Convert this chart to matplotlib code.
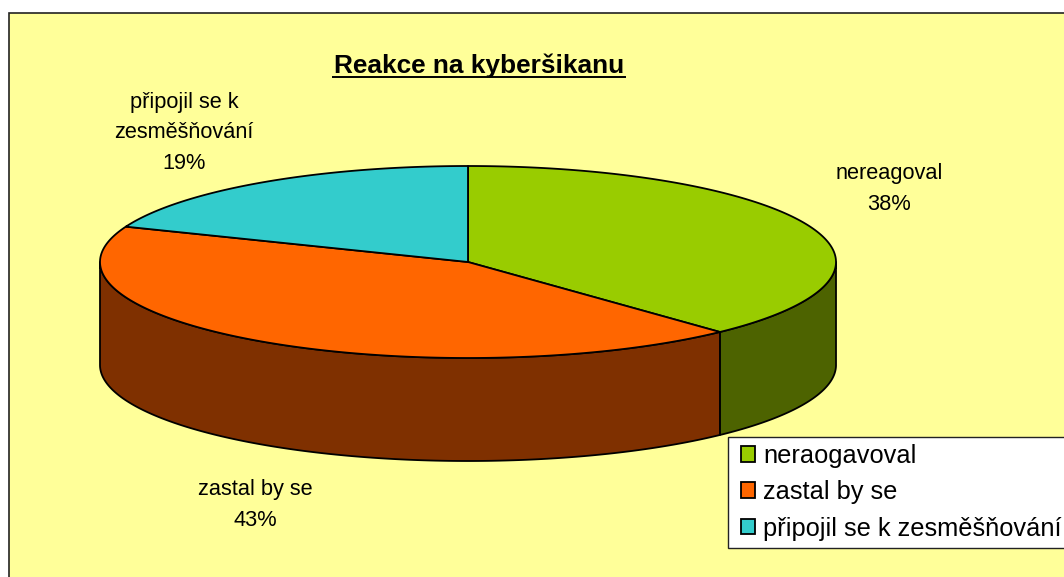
import matplotlib
matplotlib.use('Agg')
import matplotlib.pyplot as plt
import numpy as np
from matplotlib.legend_handler import HandlerPatch
from matplotlib.patches import Patch, Rectangle

plt.rcParams['font.family'] = ['Liberation Sans', 'DejaVu Sans']

TITLE = 'Reakce na kyberšikanu'
SLICE_LABELS = ['nereagoval', 'zastal by se', 'připojil se k\nzesměšňování']
LEGEND_LABELS = ['neraogavoval', 'zastal by se', 'připojil se k zesměšňování']
PERCENTS = [38, 43, 19]
TOP_COLORS = ['#99CC00', '#FF6600', '#33CCCC']
SIDE_COLORS = ['#4D6300', '#7F3000', '#1A6666']

# pie geometry, in reference pixels
CX, CY = 468, 262
RX, RY = 368, 96
DEPTH = 103

WIDTH, HEIGHT = 1064, 577


def rim(a0, a1, drop=0):
    # angles clockwise from 12 o'clock
    t = np.radians(np.linspace(a0, a1, 200))
    return CX + RX * np.sin(t), CY - RY * np.cos(t) + drop


fig = plt.figure(figsize=(WIDTH / 100, HEIGHT / 100), dpi=100)
ax = fig.add_axes([0, 0, 1, 1])
ax.set_xlim(0, WIDTH)
ax.set_ylim(HEIGHT, 0)
ax.axis('off')

ax.add_patch(Rectangle((8.5, 12.5), WIDTH + 20, HEIGHT + 20, fc='#FFFF99', ec='#222222', lw=1.2))

edges = np.cumsum([0] + PERCENTS) * 3.6

# side wall: only the part of the rim facing the viewer
for i in range(len(PERCENTS)):
    a0, a1 = max(edges[i], 90), min(edges[i + 1], 270)
    if a0 >= a1:
        continue
    x, y = rim(a0, a1)
    xb, yb = rim(a0, a1, DEPTH)
    ax.fill(np.r_[x, xb[::-1]], np.r_[y, yb[::-1]], fc=SIDE_COLORS[i], ec='black', lw=1.3, joinstyle='round')

# top face
for i in range(len(PERCENTS)):
    x, y = rim(edges[i], edges[i + 1])
    ax.fill(np.r_[CX, x], np.r_[CY, y], fc=TOP_COLORS[i], ec='black', lw=1.3, joinstyle='round')

ax.text(479, 66, TITLE, fontsize=18.9, fontweight='bold', ha='center', va='center', color='black')
ax.plot([332, 626], [77, 77], color='black', lw=1.4, solid_capstyle='butt')

label_pos = [(889, 189), (255, 505), (184, 133)]
for name, pct, (lx, ly) in zip(SLICE_LABELS, PERCENTS, label_pos):
    ax.text(lx, ly, f'{name}\n{pct}%', fontsize=15.7, ha='center', va='center',
            linespacing=1.62, color='black')

handles = [Patch(fc=c, ec='black', lw=1.3) for c in TOP_COLORS]
leg = ax.legend(handles, LEGEND_LABELS, loc='upper left', bbox_to_anchor=(727.5 / WIDTH, 1 - 436.5 / HEIGHT),
                borderaxespad=0, fontsize=18.3, fancybox=False, framealpha=1, edgecolor='#222222',
                handlelength=0.8, handleheight=0.58, handletextpad=0.3, labelspacing=0.48,
                borderpad=0.3, handler_map={Patch: HandlerPatch(xpad=0.22)})
leg.get_frame().set_linewidth(1.0)

fig.savefig('out.png', dpi=100)
